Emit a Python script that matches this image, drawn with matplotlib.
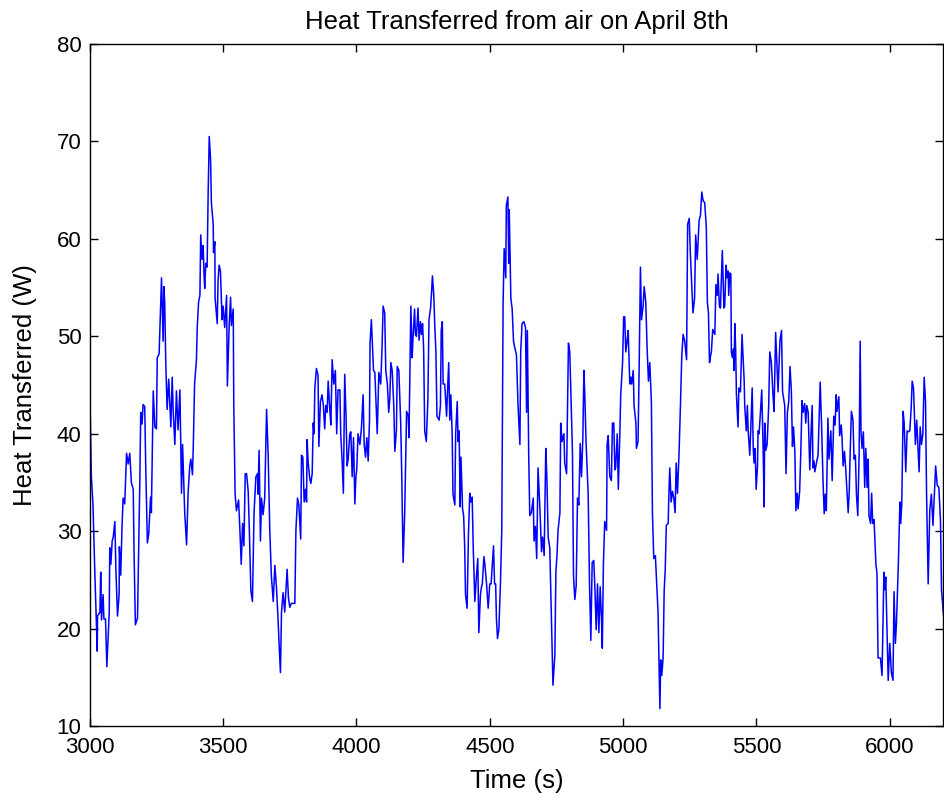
import matplotlib
matplotlib.use("Agg")
import matplotlib.pyplot as plt

# time (s) and heat transferred (W)
time_s = [
    3000, 3006, 3012, 3019, 3028, 3029, 3038, 3041, 3044, 3050, 3053, 3059, 3064, 3073, 3075, 3079,
    3084, 3088, 3094, 3098, 3104, 3110, 3111, 3116, 3121, 3125, 3131, 3138, 3144, 3150, 3156, 3163,
    3166, 3171, 3179, 3188, 3191, 3196, 3200, 3206, 3210, 3216, 3221, 3228, 3231, 3238, 3244, 3250,
    3253, 3260, 3265, 3269, 3273, 3275, 3278, 3281, 3285, 3290, 3296, 3304, 3309, 3313, 3319, 3325,
    3331, 3338, 3344, 3348, 3356, 3363, 3369, 3375,
    3379, 3385, 3388, 3393, 3400, 3403, 3408, 3413, 3416, 3421, 3425, 3429, 3431, 3435, 3440, 3444,
    3448, 3453, 3456, 3463, 3464, 3469, 3470, 3478, 3481, 3485, 3490, 3496, 3500, 3506, 3513, 3516,
    3523, 3528, 3531, 3538, 3540, 3545, 3550, 3558, 3563, 3568, 3573, 3578, 3583, 3588, 3594, 3598,
    3604, 3610, 3616, 3623, 3629, 3631, 3635, 3640, 3644, 3650, 3656, 3663, 3669, 3675, 3681, 3688,
    3694, 3700, 3706, 3710, 3715, 3719, 3725, 3731, 3740, 3745, 3750, 3756, 3769, 3773,
    3779, 3784, 3791, 3794, 3799, 3804, 3809, 3813, 3815, 3819, 3825, 3829, 3834, 3838, 3841, 3844,
    3850, 3856, 3859, 3865, 3871, 3876, 3881, 3885, 3890, 3894, 3900, 3904, 3909, 3915, 3921, 3926,
    3931, 3938, 3941, 3946, 3951, 3956, 3961, 3965, 3969, 3975, 3979, 3984, 3989, 3994, 3998, 4001,
    4006, 4013, 4019, 4025, 4029, 4034, 4039, 4044, 4049, 4051, 4056, 4064, 4069, 4074, 4078, 4084,
    4091, 4096, 4100, 4106, 4110, 4116, 4121, 4125, 4129, 4134, 4140, 4144, 4150, 4153, 4159, 4166,
    4170, 4175,
    4181, 4188, 4194, 4197, 4204, 4209, 4212, 4218, 4221, 4225, 4231, 4235, 4240, 4244, 4248, 4252,
    4256, 4262, 4268, 4272, 4278, 4281, 4285, 4290, 4294, 4298, 4302, 4310, 4315, 4318, 4322, 4325,
    4331, 4338, 4341, 4346, 4350, 4354, 4359, 4362, 4369, 4372, 4378, 4381, 4385, 4389, 4392, 4398,
    4402, 4406, 4409, 4415, 4420, 4425, 4429, 4434, 4438, 4444, 4450, 4455, 4459, 4465, 4469, 4472,
    4478, 4482, 4488, 4494, 4500, 4505, 4510, 4514, 4518, 4522, 4525, 4529, 4534, 4540, 4545, 4550,
    4554, 4560, 4562, 4568, 4571,
    4573, 4579, 4584, 4589, 4594, 4600, 4606, 4613, 4616, 4621, 4628, 4634, 4638, 4641, 4646, 4650,
    4656, 4663, 4666, 4671, 4676, 4681, 4688, 4694, 4698, 4704, 4710, 4714, 4719, 4725, 4731, 4737,
    4744, 4748, 4752, 4756, 4763, 4766, 4771, 4778, 4781, 4788, 4791, 4795, 4800, 4806, 4810, 4814,
    4819, 4824, 4829, 4834, 4839, 4844, 4849, 4853, 4856, 4861, 4869, 4874, 4879, 4884, 4890, 4894,
    4899, 4904, 4909, 4914, 4919, 4922, 4926, 4931, 4938, 4940, 4944,
    4950, 4956, 4960, 4965, 4969, 4972, 4978, 4982, 4988, 4991, 4998, 5002, 5006, 5010, 5015, 5019,
    5025, 5029, 5032, 5038, 5041, 5048, 5050, 5056, 5060, 5065, 5069, 5075, 5079, 5085, 5090, 5095,
    5100, 5106, 5110, 5115, 5121, 5131, 5138, 5141, 5145, 5150, 5154, 5158, 5162, 5169, 5172, 5175,
    5180, 5185, 5190, 5195, 5199, 5204, 5210, 5215, 5220, 5225, 5231, 5238, 5242, 5248, 5252, 5258,
    5262, 5268, 5272, 5278, 5281, 5285, 5290, 5295, 5300, 5306, 5312, 5316, 5320, 5324, 5328, 5331,
    5336,
    5344, 5348, 5353, 5356, 5361, 5365, 5369, 5372, 5378, 5381, 5386, 5390, 5394, 5396, 5400, 5404,
    5406, 5410, 5414, 5416, 5419, 5422, 5425, 5431, 5434, 5440, 5446, 5454, 5456, 5462, 5466, 5469,
    5475, 5479, 5484, 5488, 5491, 5495, 5499, 5504, 5506, 5510, 5515, 5520, 5525, 5529, 5531, 5535,
    5540, 5546, 5550, 5556, 5562, 5566, 5572, 5578, 5581, 5588, 5594, 5598, 5606, 5611, 5616, 5621,
    5626, 5631, 5635, 5639, 5644, 5648, 5653, 5656, 5662, 5666, 5671, 5675, 5681, 5685, 5689, 5694,
    5700, 5704, 5709, 5712, 5716, 5719, 5725, 5731, 5739,
    5744, 5750, 5754, 5758, 5762, 5768, 5772, 5779, 5784, 5790, 5795, 5799, 5802, 5809, 5812, 5818,
    5821, 5825, 5830, 5835, 5840, 5844, 5848, 5852, 5856, 5862, 5866, 5871, 5875, 5880, 5885, 5889,
    5892, 5896, 5901, 5906, 5910, 5915, 5919, 5922, 5928, 5932, 5936, 5941, 5948, 5952, 5956, 5965,
    5971, 5978, 5981, 5985, 5994, 6000, 6006, 6012, 6016, 6021, 6025, 6032,
    6038, 6041, 6045, 6050, 6054, 6060, 6065, 6070, 6075, 6080, 6084, 6089, 6092, 6096, 6101, 6105,
    6110, 6114, 6119, 6124, 6129, 6134, 6138, 6144, 6150, 6156, 6162, 6169, 6172, 6178, 6184, 6190,
    6194, 6202,
]

heat_w = [
    44.7, 35.6, 32.7, 25.7, 17.7, 21.3, 21.7, 25.8, 20.9, 23.5, 21.0, 21.0, 16.1, 21.7, 28.3, 26.6,
    29.0, 29.4, 31.0, 26.0, 21.3, 23.5, 28.4, 25.5, 30.5, 33.4, 32.8, 38.0, 36.9, 38.0, 35.0, 34.3,
    27.9, 20.4, 21.1, 35.6, 42.2, 41.0, 43.0, 42.8, 36.4, 28.8, 29.7, 33.5, 31.9, 44.4, 40.7, 40.5,
    47.8, 48.2, 52.4, 56.0, 51.7, 49.5, 55.1, 53.5, 47.3, 42.5, 45.6, 40.7, 45.8, 42.2, 38.9, 44.4,
    40.4, 44.5, 33.9, 38.9, 31.9, 28.6, 34.1, 36.7,
    37.4, 35.8, 38.5, 45.1, 47.6, 50.9, 53.5, 54.2, 60.4, 57.9, 59.3, 56.0, 54.9, 57.5, 57.1, 64.8,
    70.5, 68.1, 63.7, 61.5, 58.6, 59.7, 53.9, 51.3, 55.7, 57.3, 56.7, 51.7, 53.1, 50.9, 54.2, 44.9,
    51.3, 54.0, 51.1, 52.8, 42.9, 33.8, 32.1, 33.2, 30.1, 26.6, 30.8, 28.5, 35.9, 35.9, 34.1, 30.5,
    23.9, 22.8, 31.9, 35.6, 35.9, 33.8, 38.3, 29.0, 33.4, 31.7, 33.4, 42.5, 37.8, 30.1, 25.4, 22.8,
    26.5, 24.3, 21.0, 18.4, 15.5, 21.7, 23.7, 21.7, 26.1, 23.2, 22.2, 22.6, 22.6, 30.1,
    33.4, 32.7, 29.2, 37.8, 37.6, 33.0, 34.3, 33.0, 39.4, 37.0, 35.4, 34.9, 35.9, 41.1, 40.0, 44.7,
    46.7, 46.0, 38.7, 43.3, 44.0, 42.9, 40.5, 42.9, 42.2, 45.4, 42.5, 40.9, 47.6, 45.1, 46.5, 40.0,
    44.5, 44.5, 40.0, 37.4, 33.9, 46.1, 41.8, 36.7, 37.4, 40.0, 40.2, 35.6, 39.6, 32.8, 35.6, 36.3,
    40.0, 38.9, 40.7, 44.0, 38.9, 37.6, 39.6, 37.2, 41.4, 49.3, 51.7, 46.5, 46.3, 42.9, 40.0, 46.3,
    45.1, 48.8, 53.1, 52.4, 46.5, 45.1, 42.2, 43.6, 47.3, 46.5, 42.9, 38.2, 40.4, 46.9, 46.5, 41.1,
    35.6, 26.8,
    31.9, 42.3, 41.9, 39.6, 53.1, 47.8, 49.8, 52.8, 50.2, 50.0, 52.9, 49.6, 51.5, 50.2, 51.3, 48.7,
    40.3, 39.2, 43.6, 51.7, 52.9, 54.2, 56.2, 54.2, 50.9, 48.4, 41.8, 41.4, 42.9, 50.6, 51.5, 45.1,
    45.1, 41.8, 44.0, 47.3, 41.4, 44.0, 40.0, 33.8, 32.7, 40.0, 43.3, 39.2, 40.3, 32.5, 37.6, 32.3,
    31.6, 28.3, 23.5, 22.1, 29.7, 33.9, 33.0, 33.5, 28.3, 22.8, 25.4, 27.2, 19.6, 23.5, 24.3, 24.6,
    27.4, 26.5, 24.6, 22.1, 24.6, 24.6, 26.8, 28.5, 24.6, 24.6, 21.0, 19.0, 19.9, 24.6, 30.1, 53.5,
    59.0, 56.0, 63.4, 64.3, 57.5,
    63.0, 53.9, 52.8, 49.5, 48.8, 48.1, 42.9, 38.9, 48.4, 51.3, 51.5, 50.9, 42.2, 50.6, 37.8, 31.6,
    31.9, 33.4, 29.0, 30.5, 27.2, 36.5, 32.3, 27.9, 29.4, 27.5, 38.5, 35.6, 29.4, 28.3, 21.0, 14.2,
    17.3, 25.9, 27.5, 30.1, 31.9, 41.1, 39.2, 40.0, 37.0, 35.9, 41.4, 49.3, 48.4, 42.2, 38.2, 25.4,
    23.0, 24.4, 33.4, 32.7, 39.0, 35.6, 39.6, 46.5, 44.3, 39.2, 33.8, 24.6, 18.8, 26.8, 27.0, 24.3,
    19.9, 24.6, 19.6, 24.3, 21.0, 18.0, 26.5, 31.0, 30.1, 38.9, 39.8,
    35.6, 35.2, 41.1, 41.1, 36.3, 36.5, 40.0, 34.3, 40.3, 44.0, 47.3, 52.0, 52.0, 48.4, 49.5, 50.6,
    45.1, 45.8, 45.1, 46.5, 42.9, 41.1, 38.5, 39.2, 46.5, 57.1, 51.7, 53.1, 55.1, 53.5, 48.8, 45.4,
    47.3, 43.3, 31.9, 27.2, 27.5, 21.7, 11.8, 16.8, 15.2, 17.0, 23.9, 26.1, 30.6, 30.8, 34.1, 36.5,
    33.0, 34.1, 33.4, 31.9, 37.0, 33.9, 38.2, 42.9, 48.0, 50.2, 49.5, 47.6, 61.5, 62.1, 58.6, 54.9,
    52.4, 53.9, 60.4, 57.9, 59.7, 61.9, 62.4, 64.8, 63.9, 63.7, 61.2, 53.5, 52.4, 47.3, 48.0, 48.4,
    50.7,
    50.2, 55.3, 54.2, 56.4, 53.1, 52.9, 56.4, 58.8, 52.9, 53.1, 57.3, 56.0, 56.7, 54.2, 56.5, 56.4,
    48.4, 47.8, 48.7, 46.5, 51.3, 48.7, 44.0, 40.7, 44.7, 44.3, 50.2, 45.4, 42.9, 40.3, 42.9, 40.3,
    37.8, 40.7, 44.7, 38.5, 37.0, 38.5, 34.3, 36.7, 40.3, 40.0, 42.2, 44.5, 38.5, 32.5, 41.1, 38.3,
    38.9, 42.9, 48.4, 47.3, 44.0, 42.3, 50.4, 46.5, 44.3, 49.5, 50.6, 44.3, 42.9, 35.9, 42.2, 43.3,
    46.9, 44.3, 38.7, 40.7, 38.2, 32.1, 33.9, 32.3, 34.1, 37.8, 43.4, 42.2, 43.1, 41.1, 42.9, 42.2,
    36.3, 39.6, 42.9, 36.5, 37.2, 36.1, 37.0, 37.8, 45.3,
    41.1, 34.9, 31.8, 33.8, 32.1, 41.6, 37.4, 40.3, 35.2, 41.8, 40.9, 44.0, 42.3, 43.8, 39.8, 40.9,
    39.6, 36.7, 38.2, 36.3, 33.8, 31.9, 34.1, 38.5, 42.3, 41.4, 37.4, 37.8, 33.8, 31.6, 37.8, 49.5,
    40.3, 38.5, 40.2, 34.5, 38.5, 34.5, 37.4, 31.6, 30.8, 33.9, 30.8, 31.2, 26.6, 25.7, 17.0, 17.0,
    15.2, 25.8, 24.0, 25.3, 14.7, 18.5, 15.5, 14.7, 23.8, 18.5, 20.5, 26.5,
    33.0, 30.8, 32.8, 42.3, 41.1, 36.1, 40.3, 40.2, 40.3, 42.5, 45.4, 44.7, 42.2, 38.9, 41.4, 39.0,
    36.1, 40.7, 38.9, 40.0, 45.8, 43.3, 33.8, 24.6, 32.1, 33.8, 30.6, 34.9, 36.7, 34.7, 34.5, 31.2,
    23.9, 21.3,
]

plt.rcParams['font.family'] = ['Liberation Sans', 'DejaVu Sans']

fig = plt.figure(figsize=(9.45, 7.98), dpi=100)
ax = fig.add_axes([0.095, 0.090, 0.903, 0.855])
ax.plot(time_s, heat_w, color=(0, 0, 1), linewidth=1.1)

ax.set_xlim(3000, 6200)
ax.set_ylim(10, 80)
ax.set_xticks(range(3000, 6001, 500))
ax.set_yticks(range(10, 81, 10))
ax.tick_params(direction='in', top=True, right=True, labelsize=16, length=6, width=1)
ax.tick_params(axis='x', pad=8)
ax.tick_params(axis='y', pad=6)
for s in ax.spines.values():
    s.set_linewidth(1)

ax.set_title("Heat Transferred from air on April 8th", fontsize=18.5, pad=11)
ax.set_xlabel("Time (s)", fontsize=18.5, labelpad=8)
ax.set_ylabel("Heat Transferred (W)", fontsize=18.5, labelpad=14)

fig.savefig("out.png", dpi=100)
